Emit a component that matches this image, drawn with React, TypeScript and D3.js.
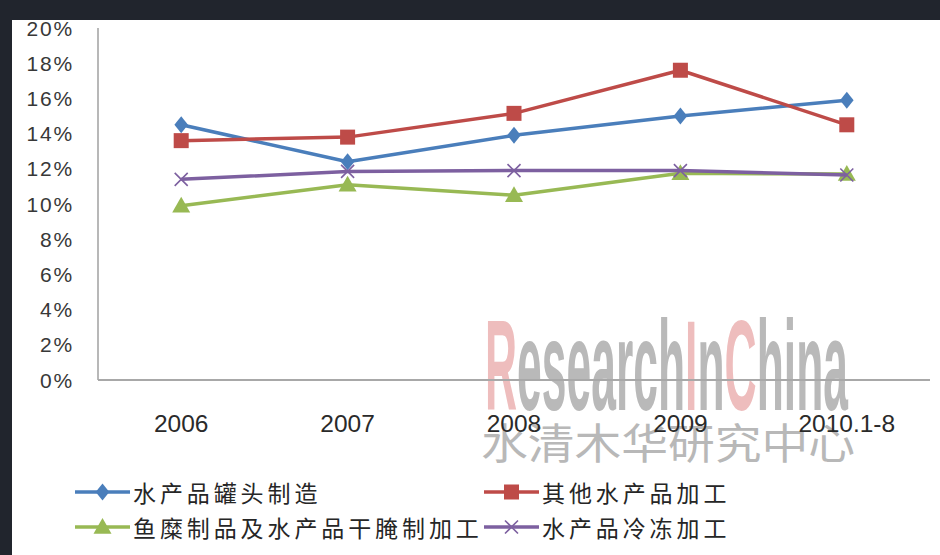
import React from "react";
import * as d3 from "d3";

const categories = ["2006", "2007", "2008", "2009", "2010.1-8"];
const seriesNames = ["水产品罐头制造", "其他水产品加工", "鱼糜制品及水产品干腌制加工", "水产品冷冻加工"];
const canned = [14.5, 12.4, 13.9, 15.0, 15.9];
const otherProc = [13.6, 13.8, 15.15, 17.6, 14.5];
const surimi = [9.9, 11.1, 10.5, 11.75, 11.7];
const frozen = [11.4, 11.85, 11.9, 11.9, 11.65];
const yTicks = [0, 2, 4, 6, 8, 10, 12, 14, 16, 18, 20];
const colors = ["#4a7ebb", "#be4b48", "#98b954", "#7d60a0"];
const markers = ["diamond", "square", "triangle", "x"];

const W = 940, H = 555;
const x = d3.scaleBand<string>().domain(categories).range([98, 930]).padding(0);
const y = d3.scaleLinear().domain([0, 20]).range([380, 28]);
const line = d3.line<number>().x((_, i) => (x(categories[i]) as number) + x.bandwidth() / 2).y(d => y(d));

function Marker({ type, cx, cy, color }: { type: string; cx: number; cy: number; color: string }) {
  if (type === "diamond") {
    const s = 8.5;
    return <path d={`M${cx},${cy - s}L${cx + s * 0.8},${cy}L${cx},${cy + s}L${cx - s * 0.8},${cy}Z`} fill={color} />;
  }
  if (type === "square") {
    const s = 7.5;
    return <rect x={cx - s} y={cy - s} width={2 * s} height={2 * s} fill={color} />;
  }
  if (type === "triangle") {
    const s = 9;
    return <path d={`M${cx},${cy - s}L${cx + s},${cy + s * 0.75}L${cx - s},${cy + s * 0.75}Z`} fill={color} />;
  }
  const s = 6.5;
  return <path d={`M${cx - s},${cy - s}L${cx + s},${cy + s}M${cx - s},${cy + s}L${cx + s},${cy - s}`} stroke={color} strokeWidth={1.6} fill="none" />;
}

export default function App() {
  const data = [canned, otherProc, surimi, frozen];
  const legendPos = [
    { lx: 75, ly: 492 },
    { lx: 484, ly: 492 },
    { lx: 75, ly: 527 },
    { lx: 484, ly: 527 },
  ];
  return (
    <svg width={W} height={H} style={{ position: "absolute", left: 0, top: 0 }}>
      <rect x={0} y={0} width={W} height={H} fill="#21252d" />
      <rect x={12} y={20} width={W - 12} height={H - 20} fill="#ffffff" />

      {/* watermark */}
      <text x={485} y={410} fontFamily="Liberation Sans" fontWeight="bold" fontSize={128} textLength={363} lengthAdjust="spacingAndGlyphs" fill="#b9b9b9">
        <tspan fill="#eebdbd">R</tspan>esearch<tspan fill="#eebdbd">I</tspan>n<tspan fill="#eebdbd">C</tspan>hina
      </text>
      <text x={481} y={459} fontFamily="Noto Sans CJK SC" fontSize={42} textLength={374} lengthAdjust="spacingAndGlyphs" fill="#b8b8b8">
        水清木华研究中心
      </text>

      {/* axes */}
      <line x1={98} x2={98} y1={y(20)} y2={380} stroke="#b8b8b8" strokeWidth={2} />
      <line x1={98} x2={930} y1={380} y2={380} stroke="#a8a8a8" strokeWidth={2} />
      {yTicks.map(t => (
        <text key={t} x={74} y={y(t)} textAnchor="end" dominantBaseline="central" fontFamily="Liberation Sans" fontSize={21} letterSpacing={1.8} fill="#383838">
          {t}%
        </text>
      ))}
      {categories.map(c => (
        <text key={c} x={(x(c) as number) + x.bandwidth() / 2} y={423} textAnchor="middle" dominantBaseline="central" fontFamily="Liberation Sans" fontSize={24.5} fill="#2a2a2a">
          {c}
        </text>
      ))}

      {/* lines */}
      {data.map((s, si) => (
        <g key={si}>
          <path d={line(s) || ""} fill="none" stroke={colors[si]} strokeWidth={3.5} strokeLinejoin="round" />
          {s.map((v, i) => (
            <Marker key={i} type={markers[si]} cx={(x(categories[i]) as number) + x.bandwidth() / 2} cy={y(v)} color={colors[si]} />
          ))}
        </g>
      ))}

      {/* legend */}
      {seriesNames.map((n, si) => {
        const { lx, ly } = legendPos[si];
        return (
          <g key={n}>
            <line x1={lx} x2={lx + 55} y1={ly} y2={ly} stroke={colors[si]} strokeWidth={3.5} />
            <Marker type={markers[si]} cx={lx + 27.5} cy={ly} color={colors[si]} />
            <text x={lx + 58} y={ly} dominantBaseline="central" fontFamily="Noto Sans CJK SC" fontSize={23} letterSpacing={3.9} fill="#262626">
              {n}
            </text>
          </g>
        );
      })}
    </svg>
  );
}
